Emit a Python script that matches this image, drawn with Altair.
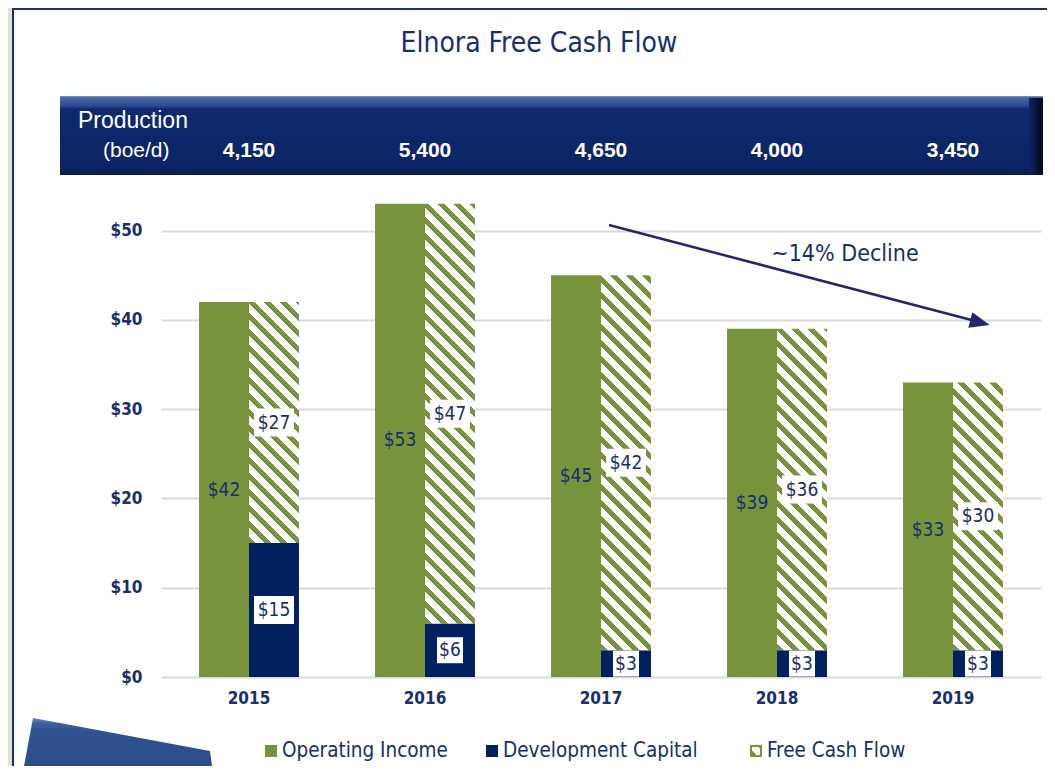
import math
import altair as alt
import pandas as pd

# ---------------- data ----------------
years = ["2015", "2016", "2017", "2018", "2019"]
production = [4150, 5400, 4650, 4000, 3450]
operating_income = [42, 53, 45, 39, 33]
development_capital = [15, 6, 3, 3, 3]
free_cash_flow = [27, 47, 42, 36, 30]
series_names = ["Operating Income", "Development Capital", "Free Cash Flow"]
y_ticks = [0, 10, 20, 30, 40, 50]
title_text = "Elnora Free Cash Flow"
band_labels = ["Production", "(boe/d)"]
annotation_text = "~14% Decline"

# ---------------- style ----------------
GREEN = "#77933C"
NAVY = "#002060"
TEXT = "#17306B"
ARROW = "#24246F"
NARROW = "'Liberation Sans Narrow', 'Arial Narrow', 'DejaVu Sans Condensed', sans-serif"
SANS = "'Liberation Sans', Arial, sans-serif"
W, H = 880, 491
Y_MAX = 55
PX = H / Y_MAX
BAR_W = 50
HATCH_PERIOD = 16.0
HATCH_GREEN = 0.42


def hatch(w, h):
    """Diagonal '\\' stripes at 45 degrees in a w x h pixel box."""
    k = (w + h) / (w * w + h * h)
    n = (w + h) / HATCH_PERIOD
    stops = []
    for i in range(int(math.ceil(n))):
        a = min(i / n, 1.0)
        b = min((i + HATCH_GREEN) / n, 1.0)
        c = min((i + 1) / n, 1.0)
        stops += [
            {"offset": a, "color": GREEN},
            {"offset": b, "color": GREEN},
            {"offset": b, "color": "#FFFFFF"},
            {"offset": c, "color": "#FFFFFF"},
        ]
    return {"gradient": "linear", "x1": 0, "y1": 1, "x2": k * w, "y2": 1 - k * h, "stops": stops}


rows = []
for i, yr in enumerate(years):
    oi, dc, fcf = operating_income[i], development_capital[i], free_cash_flow[i]
    rows.append(dict(year=yr, series=series_names[0], slot="a", y0=0, y1=oi, value=oi))
    rows.append(dict(year=yr, series=series_names[1], slot="b", y0=0, y1=dc, value=dc))
    rows.append(dict(year=yr, series=series_names[2], slot="b", y0=dc, y1=dc + fcf, value=fcf))
df = pd.DataFrame(rows)
df["label"] = "$" + df["value"].astype(str)
df["mid"] = (df["y0"] + df["y1"]) / 2

prod_df = pd.DataFrame({"year": years, "production": production})
one = pd.DataFrame({"k": [0]})

x_axis = alt.Axis(
    title=None, labelAngle=0, domain=False, ticks=False, labelPadding=13,
    labelFont=NARROW, labelFontSize=17, labelFontWeight="bold", labelColor=TEXT,
)
x_scale = alt.Scale(domain=years, paddingInner=0.432, paddingOuter=0.216)
x_enc = alt.X("year:N", sort=years, scale=x_scale, axis=x_axis)
xo_enc = alt.XOffset("slot:N", scale=alt.Scale(domain=["a", "b"], paddingInner=0, paddingOuter=0))
y_scale = alt.Scale(domain=[0, Y_MAX], nice=False)
y_axis = alt.Axis(
    title=None, values=y_ticks, labelExpr="'$' + datum.value", grid=True,
    gridColor="#D9D9D9", gridWidth=2, domain=False, ticks=False, labelPadding=19,
    labelFont=NARROW, labelFontSize=17, labelFontWeight="bold", labelColor=TEXT,
)


def Y(field):
    return alt.Y(field, scale=y_scale, axis=y_axis, title=None)


base = alt.Chart(df)

solid = base.transform_filter(
    alt.FieldOneOfPredicate(field="series", oneOf=series_names[:2])
).mark_bar().encode(
    x=x_enc, xOffset=xo_enc, y=Y("y1:Q"), y2="y0:Q",
    color=alt.Color("series:N", scale=alt.Scale(domain=series_names[:2], range=[GREEN, NAVY]), legend=None),
)

layers = [solid]
for i, yr in enumerate(years):
    h = free_cash_flow[i] * PX
    layers.append(
        base.transform_filter(
            (alt.datum.series == series_names[2]) & (alt.datum.year == yr)
        ).mark_bar(fill=hatch(BAR_W, h)).encode(
            x=x_enc, xOffset=xo_enc, y=Y("y1:Q"), y2="y0:Q"
        )
    )

oi_labels = base.transform_filter(alt.datum.series == series_names[0]).mark_text(
    font=NARROW, fontSize=19, color=TEXT
).encode(x=x_enc, xOffset=xo_enc, y=Y("mid:Q"), text="label:N")

WIDE_BOX = "M-20,-14H20V14H-20Z"
SMALL_BOX = "M-13,-13H13V13H-13Z"
boxes = base.transform_filter(alt.datum.series != series_names[0]).mark_point(
    filled=True, fill="#FFFFFF", opacity=1, size=4, strokeWidth=0
).encode(
    x=x_enc, xOffset=xo_enc, y=Y("mid:Q"),
    shape=alt.condition("length(datum.label) > 2", alt.value(WIDE_BOX), alt.value(SMALL_BOX)),
)
box_labels = base.transform_filter(alt.datum.series != series_names[0]).mark_text(
    font=NARROW, fontSize=19, color=TEXT
).encode(x=x_enc, xOffset=xo_enc, y=Y("mid:Q"), text="label:N")

# ---------- decorations (pixel positions relative to plot origin) ----------
deco = alt.Chart(one)

band = deco.mark_rect(
    fill={"gradient": "linear", "x1": 0, "y1": 0, "x2": 0, "y2": 1, "stops": [
        {"offset": 0, "color": "#8C97B4"},
        {"offset": 0.02, "color": "#4D6AA8"},
        {"offset": 0.12, "color": "#2B4B92"},
        {"offset": 0.17, "color": "#0E2A6D"},
        {"offset": 0.88, "color": "#0B2566"},
        {"offset": 0.93, "color": "#0A2260"},
        {"offset": 1, "color": "#0A1B48"},
    ]}
).encode(x=alt.value(-101), x2=alt.value(882), y=alt.value(-90), y2=alt.value(-11))
band_edge = deco.mark_rect(
    fill={"gradient": "linear", "x1": 0, "y1": 0, "x2": 1, "y2": 0, "stops": [
        {"offset": 0, "color": "#0B2566"},
        {"offset": 1, "color": "#010718"},
    ]}
).encode(x=alt.value(868), x2=alt.value(882), y=alt.value(-88), y2=alt.value(-11))

band_t1 = deco.mark_text(font=SANS, fontSize=23, color="#FFFFFF", align="left", baseline="middle").encode(
    x=alt.value(-83), y=alt.value(-65), text=alt.value(band_labels[0]))
band_t2 = deco.mark_text(font=SANS, fontSize=21, color="#FFFFFF", align="left", baseline="middle").encode(
    x=alt.value(-58), y=alt.value(-35), text=alt.value(band_labels[1]))
prod_text = alt.Chart(prod_df).mark_text(
    font=SANS, fontSize=21, fontWeight="bold", color="#FFFFFF", baseline="middle"
).encode(x=x_enc, y=alt.value(-35), text=alt.Text("production:Q", format=","))

title = deco.mark_text(font=NARROW, fontSize=28, color=TEXT, baseline="middle").encode(
    x=alt.value(378), y=alt.value(-142), text=alt.value(title_text))

frame_strip = deco.mark_rect(color="#E4E2D0").encode(
    x=alt.value(-153), x2=alt.value(-149), y=alt.value(-178), y2=alt.value(580))
frame_left = deco.mark_rect(color="#1C2F6B").encode(
    x=alt.value(-149), x2=alt.value(-147), y=alt.value(-176), y2=alt.value(580))
frame_top = deco.mark_rect(color="#1C2F6B").encode(
    x=alt.value(-149), x2=alt.value(886), y=alt.value(-178), y2=alt.value(-176))

corner_shape = deco.mark_point(
    shape="M-128,532L49,565L51,580L-137,580Z", size=4, filled=True, opacity=1, strokeWidth=0,
    fill={"gradient": "linear", "x1": 0, "y1": 0, "x2": 0, "y2": 1, "stops": [
        {"offset": 0, "color": "#6A88BE"},
        {"offset": 0.12, "color": "#3D5F9E"},
        {"offset": 0.3, "color": "#2F5291"},
        {"offset": 1, "color": "#2C4D8A"},
    ]},
).encode(x=alt.value(0), y=alt.value(0))

arrow_line = deco.mark_rule(color=ARROW, strokeWidth=2.5).encode(
    x=alt.value(448), y=alt.value(39), x2=alt.value(820), y2=alt.value(136.5))
arrow_head = deco.mark_point(
    shape="M10,0L-10,-8L-10,8Z", size=4, filled=True, color=ARROW, opacity=1, angle=14.7
).encode(x=alt.value(819), y=alt.value(136.5))
decline = deco.mark_text(font=NARROW, fontSize=23, color=TEXT, baseline="middle").encode(
    x=alt.value(684), y=alt.value(68), text=alt.value(annotation_text))

# legend
legend_x = [110, 331, 595]
legend_y = 565
legend_layers = []
for name, col, lx in zip(series_names[:2], [GREEN, NAVY], legend_x[:2]):
    legend_layers.append(deco.mark_point(shape="square", size=144, filled=True, color=col, opacity=1).encode(
        x=alt.value(lx), y=alt.value(legend_y)))
legend_layers.append(deco.mark_point(
    shape="square", size=100, filled=True, opacity=1, stroke=GREEN, strokeWidth=2, fill=hatch(10, 10)
).encode(x=alt.value(legend_x[2]), y=alt.value(legend_y)))
for name, lx in zip(series_names, legend_x):
    legend_layers.append(deco.mark_text(font=NARROW, fontSize=20.5, color=TEXT, align="left", baseline="middle").encode(
        x=alt.value(lx + 11), y=alt.value(legend_y), text=alt.value(name)))

chart = alt.layer(
    *layers, oi_labels, boxes, box_labels,
    frame_strip, frame_left, frame_top, band, band_edge, band_t1, band_t2, prod_text, title,
    arrow_line, arrow_head, decline, corner_shape, *legend_layers,
).properties(
    width=W, height=H,
    autosize=alt.AutoSizeParams(type="none"),
    padding={"left": 153, "top": 178, "right": 6, "bottom": 89},
    background="#FFFFFF",
).configure_view(stroke=None)

chart.save("out.html", embed_options={"renderer": "svg", "actions": False})
